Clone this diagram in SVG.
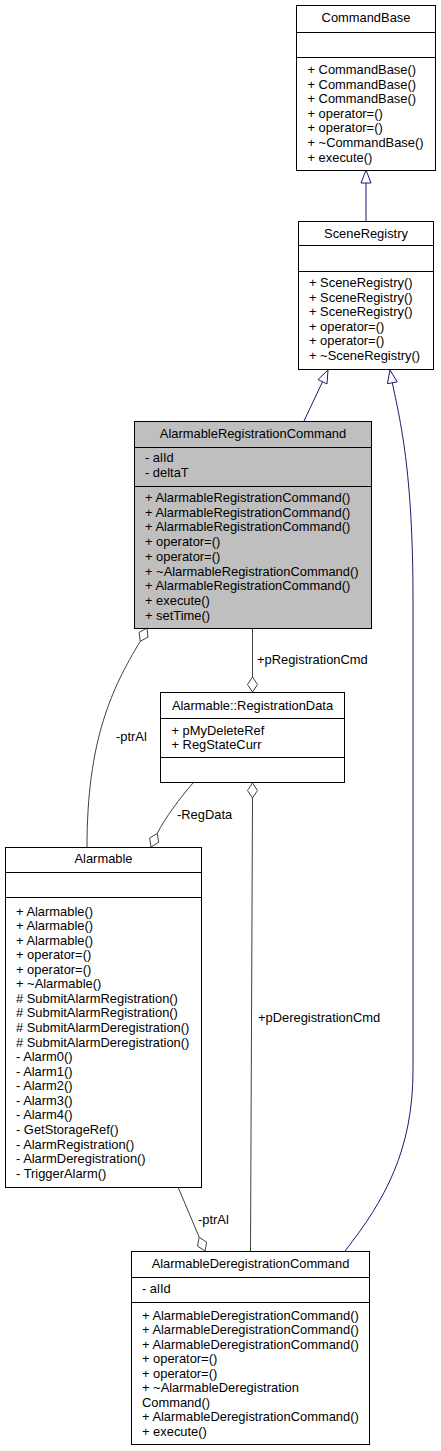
<svg xmlns="http://www.w3.org/2000/svg" width="441" height="1451" viewBox="0 0 441 1451">
<style>
.box{fill:#fff;stroke:#000;stroke-width:1}
.hl{fill:#bfbfbf}
.div{stroke:#000;stroke-width:1}
.t{font-family:"Liberation Sans",Arial,sans-serif;font-size:12.9px;fill:#000}
.c{text-anchor:middle}
.inh{fill:none;stroke:#191970;stroke-width:1}
.agg{fill:none;stroke:#404040;stroke-width:1}
.tri{fill:#fff;stroke:#191970;stroke-width:1}
.dia{fill:#fff;stroke:#404040;stroke-width:1}
</style>
<rect width="441" height="1451" fill="#fff"/>
<g id="connectors">
  <line class="inh" x1="366" y1="183" x2="366" y2="221"/>
  <polygon class="tri" points="366,170 371,183 361,183"/>
  <line class="inh" x1="322.5" y1="381.8" x2="304" y2="421"/>
  <polygon class="tri" points="328,370 327,383.9 318,379.6"/>
  <path class="inh" d="M392.3,382.8 C400,420 413,470 413,600 L413,1070 C413,1150 385,1200 345,1251"/>
  <polygon class="tri" points="390,370 397.2,381.9 387.4,383.7"/>
  <line class="agg" x1="252.5" y1="628" x2="252.5" y2="677"/>
  <polygon class="dia" points="252.5,692 257.5,684.5 252.5,677 247.5,684.5"/>
  <text class="t" x="257" y="663.5">+pRegistrationCmd</text>
  <line class="agg" x1="252.5" y1="798" x2="250.5" y2="1251"/>
  <polygon class="dia" points="252.5,783 257.5,790.5 252.5,798 247.5,790.5"/>
  <text class="t" x="258" y="1021.5">+pDeregistrationCmd</text>
  <path class="agg" d="M157.3,833.4 C165,818 180,798 193,783"/>
  <polygon class="dia" points="151,847 158.6,842.3 157.3,833.4 149.6,838.1"/>
  <text class="t" x="177" y="818.5">-RegData</text>
  <path class="agg" d="M140.2,641.4 C112,688 87,740 87,847"/>
  <polygon class="dia" points="147,628 148,637 140.2,641.4 139.1,632.4"/>
  <text class="t" x="116" y="741">-ptrAl</text>
  <line class="agg" x1="178" y1="1187" x2="199.2" y2="1237.2"/>
  <polygon class="dia" points="205,1251 206.7,1242.2 199.2,1237.2 197.5,1246"/>
  <text class="t" x="198" y="1223.5">-ptrAl</text>
</g>
<g id="CommandBase">
  <rect class="box" x="296.5" y="5.5" width="139" height="165"/>
  <line class="div" x1="296.5" y1="32.5" x2="435.5" y2="32.5"/>
  <line class="div" x1="296.5" y1="57.5" x2="435.5" y2="57.5"/>
  <text class="t c" x="366" y="21.5">CommandBase</text>
  <text class="t" x="307.5" y="74">+ CommandBase()</text>
  <text class="t" x="307.5" y="88.6">+ CommandBase()</text>
  <text class="t" x="307.5" y="103.2">+ CommandBase()</text>
  <text class="t" x="307.5" y="117.8">+ operator=()</text>
  <text class="t" x="307.5" y="132.4">+ operator=()</text>
  <text class="t" x="307.5" y="147">+ ~CommandBase()</text>
  <text class="t" x="307.5" y="161.6">+ execute()</text>
</g>
<g id="SceneRegistry">
  <rect class="box" x="298.5" y="221.5" width="135" height="148"/>
  <line class="div" x1="298.5" y1="245.5" x2="433.5" y2="245.5"/>
  <line class="div" x1="298.5" y1="271.5" x2="433.5" y2="271.5"/>
  <text class="t c" x="366" y="237.5">SceneRegistry</text>
  <text class="t" x="309" y="287">+ SceneRegistry()</text>
  <text class="t" x="309" y="301.6">+ SceneRegistry()</text>
  <text class="t" x="309" y="316.2">+ SceneRegistry()</text>
  <text class="t" x="309" y="330.8">+ operator=()</text>
  <text class="t" x="309" y="345.4">+ operator=()</text>
  <text class="t" x="309" y="360">+ ~SceneRegistry()</text>
</g>
<g id="AlarmableRegistrationCommand">
  <rect class="box hl" x="134.5" y="421.5" width="237" height="207"/>
  <line class="div" x1="134.5" y1="447.5" x2="371.5" y2="447.5"/>
  <line class="div" x1="134.5" y1="486.5" x2="371.5" y2="486.5"/>
  <text class="t c" x="253" y="438">AlarmableRegistrationCommand</text>
  <text class="t" x="145" y="462">- alId</text>
  <text class="t" x="145" y="476.7">- deltaT</text>
  <text class="t" x="145" y="502">+ AlarmableRegistrationCommand()</text>
  <text class="t" x="145" y="516.7">+ AlarmableRegistrationCommand()</text>
  <text class="t" x="145" y="531.4">+ AlarmableRegistrationCommand()</text>
  <text class="t" x="145" y="546.1">+ operator=()</text>
  <text class="t" x="145" y="560.8">+ operator=()</text>
  <text class="t" x="145" y="575.5">+ ~AlarmableRegistrationCommand()</text>
  <text class="t" x="145" y="590.2">+ AlarmableRegistrationCommand()</text>
  <text class="t" x="145" y="604.9">+ execute()</text>
  <text class="t" x="145" y="619.6">+ setTime()</text>
</g>
<g id="RegistrationData">
  <rect class="box" x="160.5" y="692.5" width="184" height="90"/>
  <line class="div" x1="160.5" y1="718.5" x2="344.5" y2="718.5"/>
  <line class="div" x1="160.5" y1="757.5" x2="344.5" y2="757.5"/>
  <text class="t c" x="252.5" y="709.5">Alarmable::RegistrationData</text>
  <text class="t" x="171.5" y="734.5">+ pMyDeleteRef</text>
  <text class="t" x="171.5" y="748.8">+ RegStateCurr</text>
</g>
<g id="Alarmable">
  <rect class="box" x="5.5" y="847.5" width="196" height="340"/>
  <line class="div" x1="5.5" y1="872.5" x2="201.5" y2="872.5"/>
  <line class="div" x1="5.5" y1="897.5" x2="201.5" y2="897.5"/>
  <text class="t c" x="103.5" y="862.8">Alarmable</text>
  <text class="t" x="16" y="915.5">+ Alarmable()</text>
  <text class="t" x="16" y="930.1">+ Alarmable()</text>
  <text class="t" x="16" y="944.6">+ Alarmable()</text>
  <text class="t" x="16" y="959.2">+ operator=()</text>
  <text class="t" x="16" y="973.7">+ operator=()</text>
  <text class="t" x="16" y="988.3">+ ~Alarmable()</text>
  <text class="t" x="16" y="1002.9"># SubmitAlarmRegistration()</text>
  <text class="t" x="16" y="1017.4"># SubmitAlarmRegistration()</text>
  <text class="t" x="16" y="1032"># SubmitAlarmDeregistration()</text>
  <text class="t" x="16" y="1046.5"># SubmitAlarmDeregistration()</text>
  <text class="t" x="16" y="1061.1">- Alarm0()</text>
  <text class="t" x="16" y="1075.7">- Alarm1()</text>
  <text class="t" x="16" y="1090.2">- Alarm2()</text>
  <text class="t" x="16" y="1104.8">- Alarm3()</text>
  <text class="t" x="16" y="1119.3">- Alarm4()</text>
  <text class="t" x="16" y="1133.9">- GetStorageRef()</text>
  <text class="t" x="16" y="1148.5">- AlarmRegistration()</text>
  <text class="t" x="16" y="1163">- AlarmDeregistration()</text>
  <text class="t" x="16" y="1177.6">- TriggerAlarm()</text>
</g>
<g id="AlarmableDeregistrationCommand">
  <rect class="box" x="131.5" y="1251.5" width="238" height="193"/>
  <line class="div" x1="131.5" y1="1277.5" x2="369.5" y2="1277.5"/>
  <line class="div" x1="131.5" y1="1302.5" x2="369.5" y2="1302.5"/>
  <text class="t c" x="250.5" y="1267.5">AlarmableDeregistrationCommand</text>
  <text class="t" x="142" y="1292.5">- alId</text>
  <text class="t" x="142" y="1319.5">+ AlarmableDeregistrationCommand()</text>
  <text class="t" x="142" y="1334">+ AlarmableDeregistrationCommand()</text>
  <text class="t" x="142" y="1348.5">+ AlarmableDeregistrationCommand()</text>
  <text class="t" x="142" y="1363">+ operator=()</text>
  <text class="t" x="142" y="1377.5">+ operator=()</text>
  <text class="t" x="142" y="1392">+ ~AlarmableDeregistration</text>
  <text class="t" x="142" y="1406.5">Command()</text>
  <text class="t" x="142" y="1421">+ AlarmableDeregistrationCommand()</text>
  <text class="t" x="142" y="1435.5">+ execute()</text>
</g>
</svg>
